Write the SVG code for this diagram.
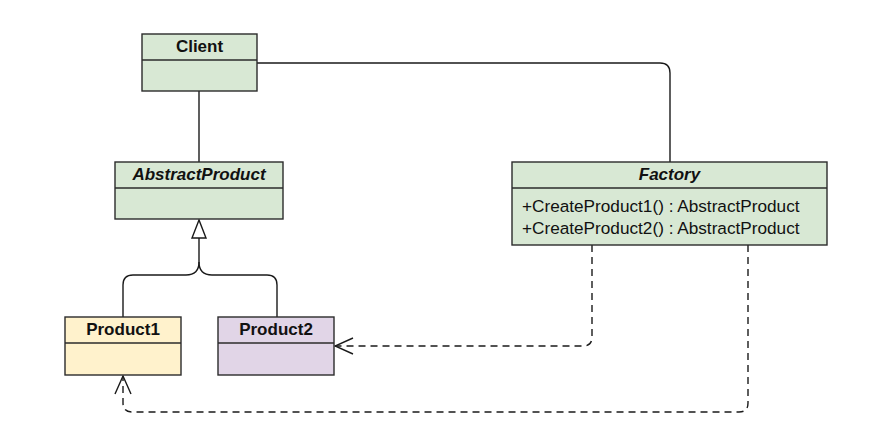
<svg xmlns="http://www.w3.org/2000/svg" width="869" height="438" viewBox="0 0 869 438">
<defs>
<style>
.box{stroke:#2b2b2b;stroke-width:1.4}
.green{fill:#d8e8d4}
.yellow{fill:#fff2cc}
.purple{fill:#e1d5e7}
.t{font-family:"Liberation Sans",Arial,sans-serif;font-size:17px;fill:#111}
.m{font-size:17.2px}
.b{font-weight:bold}
.i{font-style:italic}
.line{fill:none;stroke:#1a1a1a;stroke-width:1.4}
.dash{fill:none;stroke:#1a1a1a;stroke-width:1.4;stroke-dasharray:7 5}
</style>
<marker id="open" viewBox="0 0 20 20" refX="19" refY="10" markerWidth="20" markerHeight="20" markerUnits="userSpaceOnUse" orient="auto">
<path d="M1 2 L19 10 L1 18" fill="none" stroke="#1a1a1a" stroke-width="1.4"/>
</marker>
</defs>
<rect width="869" height="438" fill="#ffffff"/>
<g id="connectors">
<path class="line" d="M257 63 H660 Q670 63 670 73 V162"/>
<path class="line" d="M199 91 V162"/>
<path class="line" d="M199 238 V262 Q199 275 186 275 H133 Q123 275 123 285 V317"/>
<path class="line" d="M199 262 Q199 275 212 275 H267 Q277 275 277 285 V317"/>
<polygon points="199,220 192,238 206,238" fill="#ffffff" stroke="#1a1a1a" stroke-width="1.4"/>
<path class="dash" d="M592 245 V337 Q592 346 583 346 H335" marker-end="url(#open)"/>
<path class="dash" d="M748 245 V403 Q748 412 739 412 H132 Q123 412 123 403 V376" marker-end="url(#open)"/>
</g>
<g id="client">
<rect class="box green" x="142" y="34" width="115" height="57"/>
<line class="box" x1="142" y1="60" x2="257" y2="60"/>
<text class="t b" x="199.5" y="52" text-anchor="middle">Client</text>
</g>
<g id="abstractproduct">
<rect class="box green" x="115" y="162" width="168" height="57"/>
<line class="box" x1="115" y1="188" x2="283" y2="188"/>
<text class="t b i" x="199" y="180" text-anchor="middle">AbstractProduct</text>
</g>
<g id="factory">
<rect class="box green" x="512" y="162" width="315" height="83"/>
<line class="box" x1="512" y1="188" x2="827" y2="188"/>
<text class="t b i" x="669.5" y="180" text-anchor="middle">Factory</text>
<text class="t m" x="522" y="212">+CreateProduct1() : AbstractProduct</text>
<text class="t m" x="522" y="234">+CreateProduct2() : AbstractProduct</text>
</g>
<g id="product1">
<rect class="box yellow" x="65" y="317" width="116" height="58"/>
<line class="box" x1="65" y1="343" x2="181" y2="343"/>
<text class="t b" x="123" y="335" text-anchor="middle">Product1</text>
</g>
<g id="product2">
<rect class="box purple" x="218" y="317" width="116" height="58"/>
<line class="box" x1="218" y1="343" x2="334" y2="343"/>
<text class="t b" x="276" y="335" text-anchor="middle">Product2</text>
</g>
</svg>
